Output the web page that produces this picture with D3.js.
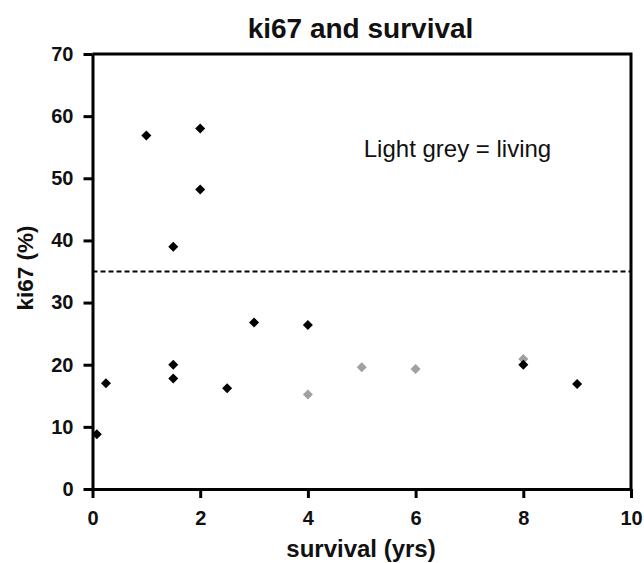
<!DOCTYPE html>
<html>
<head>
<meta charset="utf-8">
<script src="https://cdn.jsdelivr.net/npm/d3@7"></script>
<style>
  body { margin: 0; background: #fff; }
  svg text { font-family: "Liberation Sans", Arial, sans-serif; }
</style>
</head>
<body>
<svg id="chart" width="644" height="563"></svg>
<script>
// survival (yrs) vs ki67 (%)
const deceasedX = [0.08, 0.25, 1, 1.5, 1.5, 1.5, 2, 2, 2.5, 3, 4, 8, 9];
const deceasedY = [8.8, 17, 56.9, 39, 20, 17.8, 58, 48.2, 16.2, 26.8, 26.4, 20, 16.9];
const livingX = [4, 5, 6, 8];
const livingY = [15.2, 19.6, 19.3, 20.9];
const cutoff = 35;
const xTicks = [0, 2, 4, 6, 8, 10];
const yTicks = [0, 10, 20, 30, 40, 50, 60, 70];

const svg = d3.select('#chart');
const margin = { left: 92.5, right: 13, top: 54, bottom: 74 };
const W = 644, H = 563;

const x = d3.scaleLinear().domain([0, 10]).range([margin.left, W - margin.right]);
const y = d3.scaleLinear().domain([0, 70]).range([H - margin.bottom, margin.top]);

// frame top/right
svg.append('path')
  .attr('d', `M${x(0)},${y(70)}H${x(10)}V${y(0)}`)
  .attr('fill', 'none').attr('stroke', '#000').attr('stroke-width', 3);

const xAxis = svg.append('g')
  .attr('transform', `translate(0,${y(0)})`)
  .call(d3.axisBottom(x).tickValues(xTicks).tickSize(9).tickPadding(13).tickSizeOuter(0));
const yAxis = svg.append('g')
  .attr('transform', `translate(${x(0)},0)`)
  .call(d3.axisLeft(y).tickValues(yTicks).tickSize(9).tickPadding(10).tickSizeOuter(0));

[xAxis, yAxis].forEach(g => {
  g.select('.domain').attr('stroke-width', 3);
  g.selectAll('.tick line').attr('stroke-width', 3);
  g.selectAll('.tick text')
    .attr('font-size', 20).attr('font-weight', 'bold').attr('fill', '#111')
    .style('font-family', '"Liberation Sans", Arial, sans-serif');
});

// cutoff line
svg.append('line')
  .attr('x1', x(0)).attr('x2', x(10))
  .attr('y1', y(cutoff)).attr('y2', y(cutoff))
  .attr('stroke', '#000').attr('stroke-width', 2.2).attr('stroke-dasharray', '5,3');

const diamond = d3.symbol().type(d3.symbolDiamond2).size(64);

svg.append('g').selectAll('path')
  .data(livingX.map((v, i) => [v, livingY[i]]))
  .join('path')
  .attr('d', diamond)
  .attr('transform', d => `translate(${x(d[0])},${y(d[1])})`)
  .attr('fill', '#a0a0a0');

svg.append('g').selectAll('path')
  .data(deceasedX.map((v, i) => [v, deceasedY[i]]))
  .join('path')
  .attr('d', diamond)
  .attr('transform', d => `translate(${x(d[0])},${y(d[1])})`)
  .attr('fill', '#000');

svg.append('text')
  .attr('x', 360.5).attr('y', 38).attr('text-anchor', 'middle')
  .attr('font-size', 28).attr('font-weight', 'bold').attr('fill', '#111')
  .text('ki67 and survival');

svg.append('text')
  .attr('x', 457.5).attr('y', 157).attr('text-anchor', 'middle')
  .attr('font-size', 24).attr('fill', '#111')
  .text('Light grey = living');

svg.append('text')
  .attr('x', 361).attr('y', 557).attr('text-anchor', 'middle')
  .attr('font-size', 24).attr('font-weight', 'bold').attr('fill', '#111')
  .text('survival (yrs)');

svg.append('text')
  .attr('transform', 'translate(33,268) rotate(-90)')
  .attr('text-anchor', 'middle')
  .attr('font-size', 22.5).attr('font-weight', 'bold').attr('fill', '#111')
  .text('ki67 (%)');
</script>
</body>
</html>
